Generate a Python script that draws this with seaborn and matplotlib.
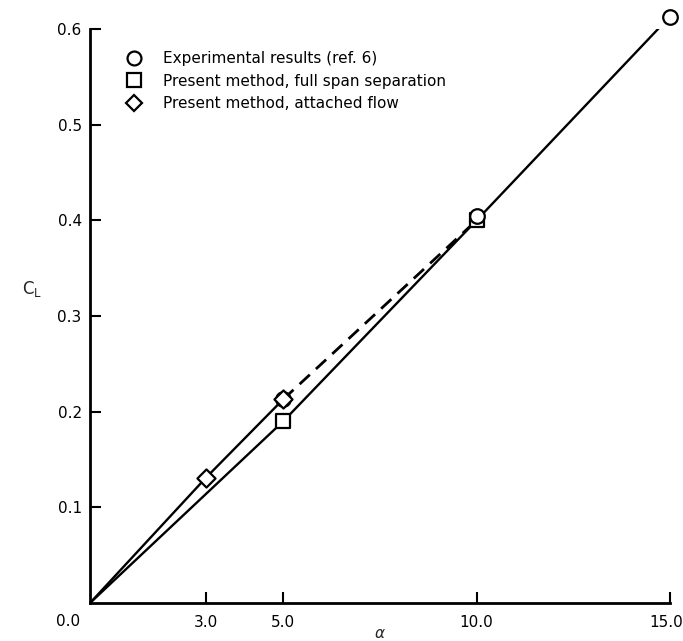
import matplotlib
matplotlib.use("Agg")
import matplotlib.pyplot as plt
import matplotlib.transforms as mtransforms
import seaborn as sns
import pandas as pd
from matplotlib.lines import Line2D

# values
alpha_exp = [5.0, 10.0, 15.0]
cl_exp = [0.213, 0.405, 0.613]

alpha_sep = [0.0, 5.0, 10.0, 15.0]
cl_sep = [0.0, 0.190, 0.400, 0.613]

alpha_att = [0.0, 3.0, 5.0]
cl_att = [0.0, 0.131, 0.213]

# attached-flow extrapolation (dashed)
alpha_att_ext = [5.0, 10.0]
cl_att_ext = [0.213, 0.400]

xticks = [3.0, 5.0, 10.0, 15.0]
xtick_labels = ["3.0", "5.0", "10.0", "15.0"]
yticks = [0.1, 0.2, 0.3, 0.4, 0.5, 0.6]
ytick_labels = ["0.1", "0.2", "0.3", "0.4", "0.5", "0.6"]

sns.set_style("ticks")
plt.rcParams["font.family"] = ["DejaVu Sans"]
plt.rcParams["text.color"] = "black"

fig = plt.figure(figsize=(6.83, 6.41), dpi=100)
ax = fig.add_axes([0.1318, 0.0593, 0.849, 0.8955])

sep = pd.DataFrame({"alpha": alpha_sep, "cl": cl_sep})
att = pd.DataFrame({"alpha": alpha_att, "cl": cl_att})
att_ext = pd.DataFrame({"alpha": alpha_att_ext, "cl": cl_att_ext})
exp = pd.DataFrame({"alpha": alpha_exp, "cl": cl_exp})

lw = 1.7
sns.lineplot(data=sep, x="alpha", y="cl", color="black", lw=lw, ax=ax, sort=False)
sns.lineplot(data=att, x="alpha", y="cl", color="black", lw=lw, ax=ax, sort=False)
sns.lineplot(data=att_ext, x="alpha", y="cl", color="black", lw=lw + 0.3,
             ax=ax, sort=False, dashes=False, linestyle=(0, (5, 3)))

mk = dict(facecolor="white", edgecolor="black", linewidth=1.6, clip_on=False, legend=False)
sns.scatterplot(data=exp, x="alpha", y="cl", marker="o", s=110, ax=ax, zorder=5, **mk)
sns.scatterplot(data=sep[sep.alpha > 0][:2], x="alpha", y="cl", marker="s", s=95, ax=ax, zorder=4, **mk)
sns.scatterplot(data=att[att.alpha > 0], x="alpha", y="cl", marker="D", s=85, ax=ax, zorder=6, **mk)

ax.set_xlim(0, 15)
ax.set_ylim(0, 0.6)
ax.set_xticks(xticks)
ax.set_xticklabels(xtick_labels)
ax.set_yticks(yticks)
ax.set_yticklabels(ytick_labels)
ax.tick_params(direction="in", length=8, width=1.5, colors="black", labelsize=11, pad=6)
ax.tick_params(axis="x", pad=9)
# last x label sits at the right edge of the figure
last = ax.get_xticklabels()[-1]
last.set_horizontalalignment("right")
last.set_transform(last.get_transform() +
                   mtransforms.ScaledTranslation(0.13, 0, fig.dpi_scale_trans))
sns.despine(ax=ax)
for s in ["left", "bottom"]:
    ax.spines[s].set_linewidth(2)
    ax.spines[s].set_color("black")

ax.text(-0.017, -0.019, "0.0", transform=ax.transAxes, ha="right", va="top", fontsize=11)

ax.set_xlabel(r"$\alpha$", fontsize=11, labelpad=-3)
ax.set_ylabel(r"$\mathrm{C_L}$", fontsize=12, rotation=0)
ax.yaxis.set_label_coords(-0.1, 0.53)

handles = [
    Line2D([], [], ls="none", marker="o", ms=10, mfc="white", mec="black", mew=1.6),
    Line2D([], [], ls="none", marker="s", ms=9.5, mfc="white", mec="black", mew=1.6),
    Line2D([], [], ls="none", marker="D", ms=8.5, mfc="white", mec="black", mew=1.6),
]
labels = ["Experimental results (ref. 6)",
          "Present method, full span separation",
          "Present method, attached flow"]
ax.legend(handles, labels, loc="upper left", bbox_to_anchor=(0.05, 0.972),
          frameon=False, fontsize=11, handletextpad=1.3, labelspacing=0.5,
          handlelength=1.2, borderaxespad=0)

fig.savefig("out.png", dpi=100)
